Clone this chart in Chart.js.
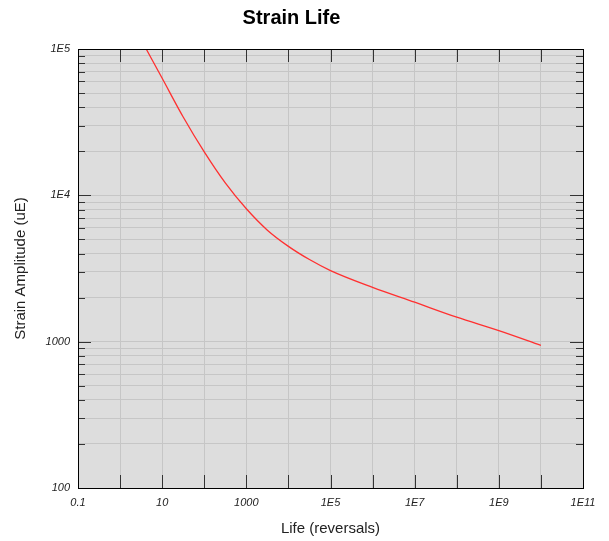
<!DOCTYPE html>
<html>
<head>
<meta charset="utf-8">
<script src="https://cdn.jsdelivr.net/npm/chart.js@4"></script>
<style>
  html, body { margin: 0; padding: 0; background: #fff; }
  #wrap { width: 609px; height: 541px; }
</style>
</head>
<body>
<div id="wrap"><canvas id="chart" width="609" height="541"></canvas></div>
<script>
// valores
const lifeValues = [4.17, 10, 31.6, 100, 316, 1000, 3162, 1e4, 31623, 1e5, 1e6, 1e7, 1e8, 1e9, 1e10];
const strainValues = [100000, 63100, 34300, 19800, 12160, 8090, 5780, 4480, 3640, 3060, 2350, 1860, 1470, 1190, 944];

const xDecades = [-1, 0, 1, 2, 3, 4, 5, 6, 7, 8, 9, 10, 11];
const yDecades = [2, 3, 4, 5];

const fontFamily = "'Liberation Sans', Arial, sans-serif";

const formatPow = v => {
  const k = Math.round(Math.log10(v));
  if (k <= 3) return k < 0 ? "0.1" : String(Math.pow(10, k));
  return "1E" + k;
};

// fondo gris, borde y marcas hacia dentro
const plotFrame = {
  id: "plotFrame",
  beforeDraw(chart) {
    const { ctx, chartArea: a } = chart;
    ctx.save();
    ctx.fillStyle = "#dddddd";
    ctx.fillRect(a.left, a.top, a.right - a.left, a.bottom - a.top);
    ctx.restore();
  },
  afterDraw(chart) {
    const { ctx, chartArea: a, scales } = chart;
    ctx.save();
    ctx.strokeStyle = "#333";
    ctx.lineWidth = 1;
    scales.y.ticks.forEach(t => {
      const l = Math.log10(t.value);
      const major = Math.abs(l - Math.round(l)) < 1e-6;
      const len = major ? 13 : 7;
      const y = Math.round(scales.y.getPixelForValue(t.value)) + 0.5;
      ctx.beginPath();
      ctx.moveTo(a.left, y); ctx.lineTo(a.left + len, y);
      ctx.moveTo(a.right, y); ctx.lineTo(a.right - len, y);
      ctx.stroke();
    });
    scales.x.ticks.forEach(t => {
      const x = Math.round(scales.x.getPixelForValue(t.value)) + 0.5;
      ctx.beginPath();
      ctx.moveTo(x, a.top); ctx.lineTo(x, a.top + 13);
      ctx.moveTo(x, a.bottom); ctx.lineTo(x, a.bottom - 13);
      ctx.stroke();
    });
    ctx.strokeStyle = "#000";
    ctx.strokeRect(Math.round(a.left) + 0.5, Math.round(a.top) + 0.5,
      Math.round(a.right - a.left), Math.round(a.bottom - a.top));
    ctx.restore();
  }
};

new Chart(document.getElementById("chart"), {
  type: "scatter",
  data: {
    datasets: [{
      data: lifeValues.map((v, i) => ({ x: v, y: strainValues[i] })),
      showLine: true,
      borderColor: "#ff3030",
      borderWidth: 1.3,
      pointRadius: 0,
      cubicInterpolationMode: "monotone"
    }]
  },
  options: {
    responsive: false,
    animation: false,
    layout: { padding: { left: 0, right: 26, top: 0, bottom: 0 } },
    plugins: {
      legend: { display: false },
      tooltip: { enabled: false },
      title: {
        display: true,
        text: "Strain Life",
        color: "#000",
        font: { family: fontFamily, size: 20, weight: "bold" },
        padding: { top: 6, bottom: 19 }
      }
    },
    scales: {
      x: {
        type: "logarithmic",
        min: 0.1,
        max: 1e11,
        afterBuildTicks: s => { s.ticks = xDecades.map(k => ({ value: Math.pow(10, k) })); },
        afterFit: s => { s.height = 53; },
        ticks: {
          autoSkip: false,
          maxRotation: 0,
          padding: 8,
          color: "#222",
          font: { family: fontFamily, size: 11, style: "italic" },
          callback: v => (Math.round(Math.log10(v)) % 2 !== 0 ? formatPow(v) : "")
        },
        grid: { color: "#c6c6c6", drawTicks: false },
        border: { display: false },
        title: {
          display: true,
          text: "Life (reversals)",
          color: "#222",
          font: { family: fontFamily, size: 15 },
          padding: { top: 0, bottom: 3 }
        }
      },
      y: {
        type: "logarithmic",
        min: 100,
        max: 1e5,
        afterBuildTicks: s => {
          const t = [];
          yDecades.forEach(k => {
            for (let m = 1; m <= 9; m++) {
              const v = m * Math.pow(10, k);
              if (v <= 1e5) t.push({ value: v });
            }
          });
          s.ticks = t;
        },
        afterFit: s => { s.width = 78; },
        ticks: {
          autoSkip: false,
          padding: 8,
          color: "#222",
          font: { family: fontFamily, size: 11, style: "italic" },
          callback: v => {
            const l = Math.log10(v);
            if (Math.abs(l - Math.round(l)) > 1e-6) return "";
            return formatPow(v);
          }
        },
        grid: { color: "#c6c6c6", drawTicks: false },
        border: { display: false },
        title: {
          display: true,
          text: "Strain Amplitude (uE)",
          color: "#222",
          font: { family: fontFamily, size: 15 },
          padding: { top: 12, bottom: 0 }
        }
      }
    }
  },
  plugins: [plotFrame]
});
</script>
</body>
</html>
